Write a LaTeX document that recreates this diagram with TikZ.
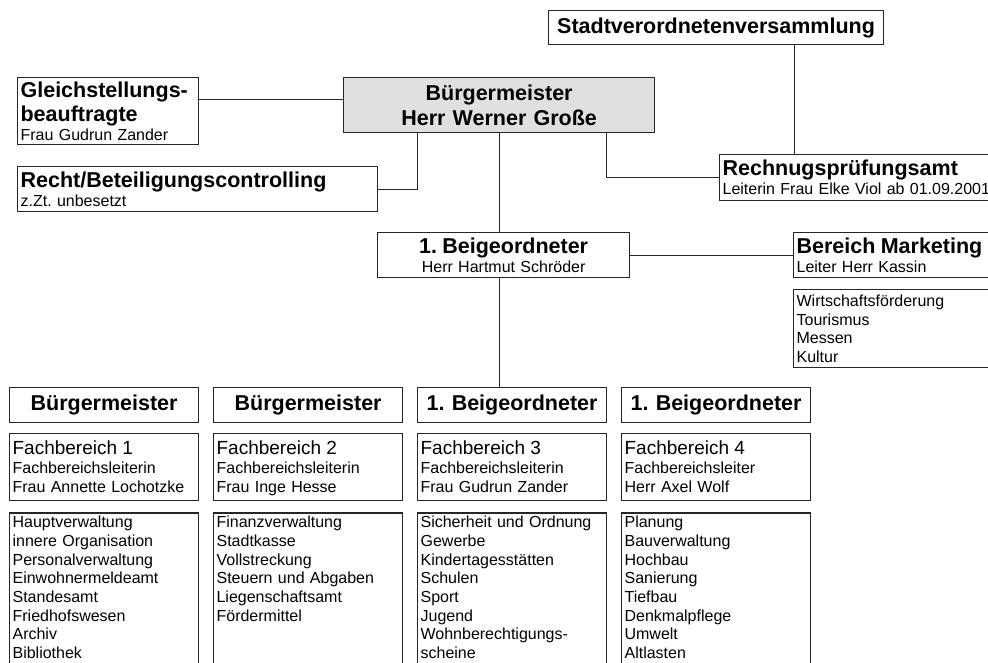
\documentclass[tikz,border=0pt]{standalone}
\usepackage{fontspec}
\setmainfont{Liberation Sans}
\usetikzlibrary{positioning,calc}
\definecolor{bmgray}{RGB}{224,224,224}
\definecolor{linegray}{RGB}{38,38,38}
\newcommand{\titel}{\fontsize{21.5}{24.5}\selectfont\bfseries}
\newcommand{\klein}{\fontsize{16}{18.7}\selectfont}
\newcommand{\fbschrift}{\fontsize{19}{21}\selectfont}
\frenchspacing
\tikzset{
  box/.style={draw=linegray, line width=1.2pt, anchor=north west, inner xsep=3pt, inner ysep=2pt, align=left, font=\klein},
  head box/.style={box, align=center, font=\titel},
  fb box/.style={box, text height=19pt, text depth=44pt},
  list box/.style={box, inner ysep=3pt},
  bottom list/.style={list box, text depth=170pt},
  conn/.style={draw=linegray, line width=1.2pt},
}
\begin{document}
\begin{tikzpicture}[x=1pt, y=-1pt]
  \useasboundingbox[fill=white] (0,0) rectangle (988,662);
  \clip (0,0) rectangle (988,662);

  % Leitung
  \node[head box, text width=329pt, minimum height=34pt] (svv) at (548,10) {Stadtverordnetenversammlung};
  \node[head box, fill=bmgray, text width=305pt, minimum height=55pt] (bm) at (343,77) {B\"urgermeister\\Herr Werner Gro\ss e};
  \node[box, text width=175pt, minimum height=67pt] (gleich) at (17,77) {{\titel Gleichstellungs-\\beauftragte\par}Frau Gudrun Zander};
  \node[box, text width=354pt, minimum height=45pt] (recht) at (17,166) {{\titel Recht/Beteiligungscontrolling\par}z.Zt. unbesetzt};
  \node[box, text width=284pt, minimum height=46pt] (rpa) at (719,154) {{\titel Rechnugspr\"ufungsamt\par}Leiterin Frau Elke Viol ab 01.09.2001};
  \node[box, align=center, text width=246pt, minimum height=45pt] (beig) at (377,232) {{\titel 1. Beigeordneter\par}Herr Hartmut Schr\"oder};
  \node[box, text width=214pt, minimum height=45pt] (mkt) at (793,232) {{\titel Bereich Marketing\par}Leiter Herr Kassin};
  \node[list box, text width=214pt, minimum height=78pt] (mktliste) [below=11pt of mkt] {Wirtschaftsf\"orderung\\Tourismus\\Messen\\Kultur};

  % Fachbereiche
  \node[head box, text width=183pt, minimum height=35pt] (kopf1) at (9,387) {B\"urgermeister};
  \node[head box, text width=183pt, minimum height=35pt] (kopf2) at (213,387) {B\"urgermeister};
  \node[head box, text width=183pt, minimum height=35pt] (kopf3) at (417,387) {1. Beigeordneter};
  \node[head box, text width=183pt, minimum height=35pt] (kopf4) at (621,387) {1. Beigeordneter};

  \node[fb box, text width=183pt] (fb1) [below=10pt of kopf1] {{\fbschrift Fachbereich 1\par}Fachbereichsleiterin\\Frau Annette Lochotzke};
  \node[fb box, text width=183pt] (fb2) [below=10pt of kopf2] {{\fbschrift Fachbereich 2\par}Fachbereichsleiterin\\Frau Inge Hesse};
  \node[fb box, text width=183pt] (fb3) [below=10pt of kopf3] {{\fbschrift Fachbereich 3\par}Fachbereichsleiterin\\Frau Gudrun Zander};
  \node[fb box, text width=183pt] (fb4) [below=10pt of kopf4] {{\fbschrift Fachbereich 4\par}Fachbereichsleiter\\Herr Axel Wolf};

  \node[bottom list, text width=183pt] (liste1) [below=11pt of fb1] {Hauptverwaltung\\innere Organisation\\Personalverwaltung\\Einwohnermeldeamt\\Standesamt\\Friedhofswesen\\Archiv\\Bibliothek};
  \node[bottom list, text width=183pt] (liste2) [below=11pt of fb2] {Finanzverwaltung\\Stadtkasse\\Vollstreckung\\Steuern und Abgaben\\Liegenschaftsamt\\F\"ordermittel};
  \node[bottom list, text width=183pt] (liste3) [below=11pt of fb3] {Sicherheit und Ordnung\\Gewerbe\\Kindertagesst\"atten\\Schulen\\Sport\\Jugend\\Wohnberechtigungs-\\scheine};
  \node[bottom list, text width=183pt] (liste4) [below=11pt of fb4] {Planung\\Bauverwaltung\\Hochbau\\Sanierung\\Tiefbau\\Denkmalpflege\\Umwelt\\Altlasten};

  % Verbindungen
  \coordinate (bmlinks) at ($(bm.north west)!0.4!(bm.south west)$);
  \coordinate (bmrecht) at ($(bm.south west)!0.2395!(bm.south east)$);
  \coordinate (bmrpa) at ($(bm.south west)!0.845!(bm.south east)$);
  \coordinate (svvrpa) at ($(svv.south west)!0.732!(svv.south east)$);
  \draw[conn] (bmlinks) -- (bmlinks -| gleich.east);
  \draw[conn] (recht.east) -| (bmrecht);
  \draw[conn] (bmrpa) |- (rpa.west);
  \draw[conn] (svvrpa) -- (svvrpa |- rpa.north);
  \draw[conn] (bm.south) -- (bm.south |- beig.north);
  \draw[conn] (bm.south |- beig.south) -- (bm.south |- kopf3.north);
  \draw[conn] (beig.east) -- (mkt.west);
\end{tikzpicture}
\end{document}
